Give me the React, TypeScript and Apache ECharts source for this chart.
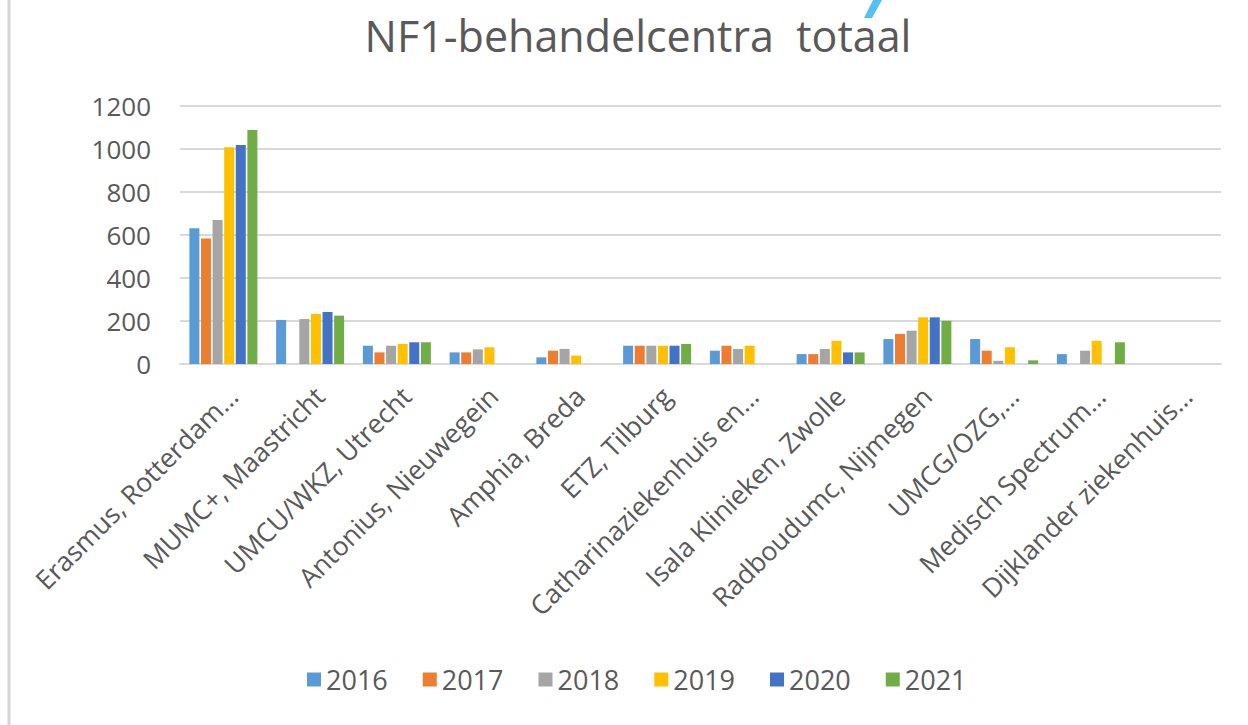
import React, { useEffect, useRef } from "react";
import * as echarts from "echarts";

const categories = [
  "Erasmus, Rotterdam…",
  "MUMC+, Maastricht",
  "UMCU/WKZ, Utrecht",
  "Antonius, Nieuwegein",
  "Amphia, Breda",
  "ETZ, Tilburg",
  "Catharinaziekenhuis en…",
  "Isala Klinieken, Zwolle",
  "Radboudumc, Nijmegen",
  "UMCG/OZG,…",
  "Medisch Spectrum…",
  "Dijklander ziekenhuis…",
];

const years = ["2016", "2017", "2018", "2019", "2020", "2021"];
const yearColors = ["#5b9bd5", "#ed7d31", "#a5a5a5", "#ffc000", "#4472c4", "#70ad47"];

const s2016 = [631, 205, 85, 54, 31, 85, 62, 46, 116, 116, 46, null];
const s2017 = [584, null, 54, 54, 62, 85, 85, 46, 140, 62, null, null];
const s2018 = [670, 209, 85, 68, 70, 85, 70, 70, 155, 15, 62, null];
const s2019 = [1008, 233, 93, 78, 39, 85, 85, 108, 217, 78, 108, null];
const s2020 = [1019, 242, 101, null, null, 85, null, 54, 217, null, null, null];
const s2021 = [1088, 225, 101, null, null, 93, null, 54, 201, 17, 101, null];

const seriesValues = [s2016, s2017, s2018, s2019, s2020, s2021];

const FONT = "'Open Sans', 'Noto Sans', sans-serif";
const TEXT = "#595959";

export default function App() {
  const ref = useRef<HTMLDivElement>(null);

  useEffect(() => {
    if (!ref.current) return;
    const chart = echarts.init(ref.current, null, { renderer: "svg" });
    chart.setOption({
      animation: false,
      backgroundColor: "#ffffff",
      title: {
        text: "NF1-behandelcentra  totaal",
        left: 633,
        top: 9,
        textAlign: "center",
        textStyle: { fontFamily: FONT, fontSize: 43, fontWeight: "normal", color: TEXT },
      },
      legend: {
        data: years,
        left: 302,
        top: 661,
        itemWidth: 14,
        itemHeight: 14,
        itemGap: 35,
        icon: "rect",
        textStyle: { fontFamily: FONT, fontSize: 27, color: TEXT },
      },
      grid: { left: 180, right: 27, top: 106, bottom: 361, containLabel: false },
      xAxis: {
        type: "category",
        data: categories,
        axisLine: { lineStyle: { color: "#d9d9d9", width: 2 } },
        axisTick: { show: false },
        axisLabel: {
          interval: 0,
          rotate: 45,
          margin: 18,
          verticalAlign: "top",
          fontFamily: FONT,
          fontSize: 26.5,
          color: TEXT,
        },
      },
      yAxis: {
        type: "value",
        min: 0,
        max: 1200,
        interval: 200,
        axisLine: { show: false },
        axisTick: { show: false },
        splitLine: { lineStyle: { color: "#d9d9d9", width: 2 } },
        axisLabel: {
          fontFamily: FONT,
          fontSize: 26,
          color: TEXT,
          margin: 29,
          formatter: (v: number) => String(v),
        },
      },
      series: years.map((y, i) => ({
        name: y,
        type: "bar",
        data: seriesValues[i],
        barWidth: 10,
        barGap: "16%",
        itemStyle: { color: yearColors[i] },
      })),
      graphic: [
        {
          type: "line",
          shape: { x1: 9, y1: 0, x2: 9, y2: 725 },
          style: { stroke: "#d6d6d6", lineWidth: 3 },
        },
        {
          type: "polygon",
          shape: { points: [[873, 0], [882, 0], [872, 18], [864, 18]] },
          style: { fill: "#55c1f0" },
        },
      ],
    });
    return () => chart.dispose();
  }, []);

  return (
    <div
      ref={ref}
      style={{ position: "absolute", left: 0, top: 0, width: 1248, height: 725 }}
    />
  );
}
